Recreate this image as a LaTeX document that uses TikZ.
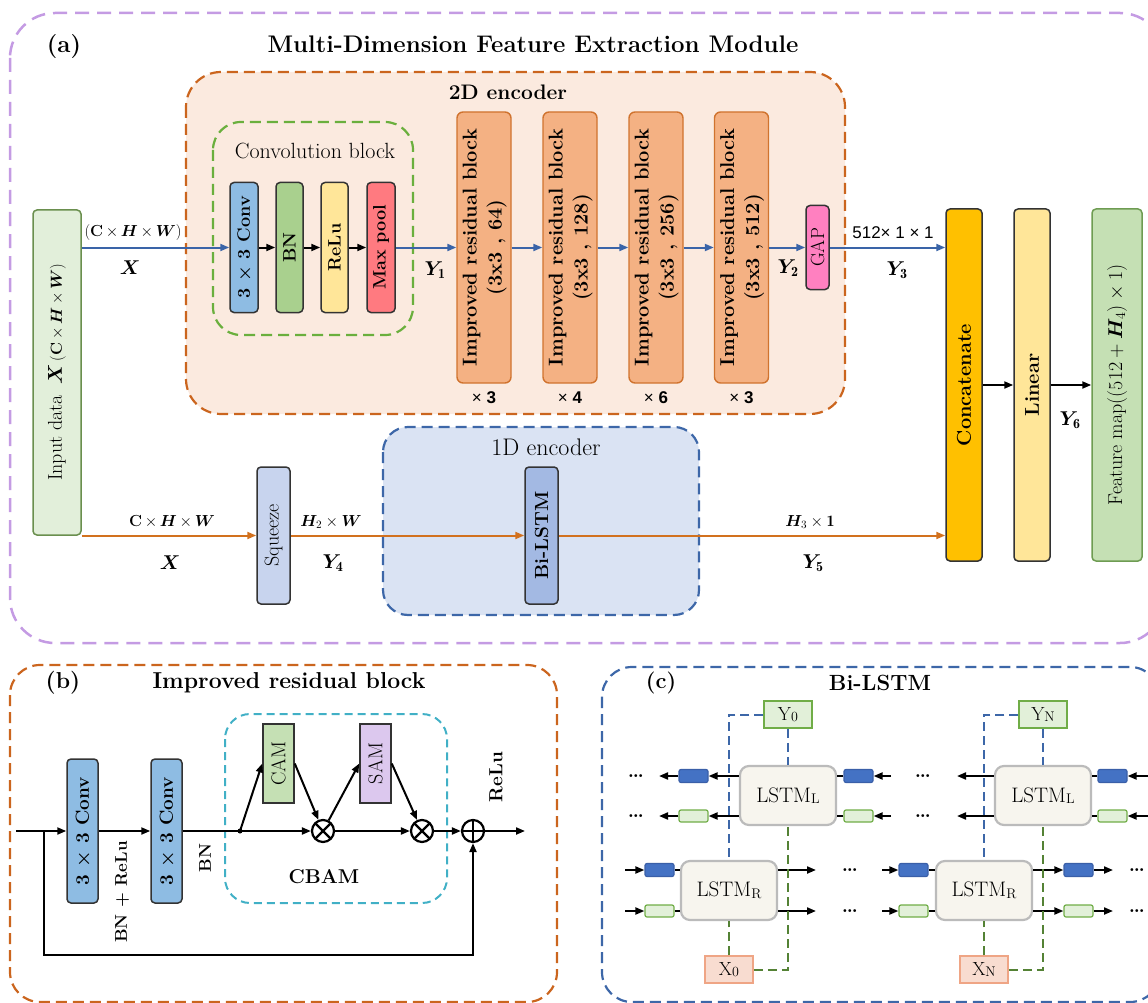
\RequirePackage{fix-cm}
\documentclass[tikz,border=0pt]{standalone}
\usepackage{amsmath}
\usepackage{bm}
\usepackage{graphicx}
\usepackage{fontspec}
\newfontfamily\sansfnt{Liberation Sans}
\usetikzlibrary{arrows.meta,calc}

\definecolor{purp}{HTML}{C49BE3}
\definecolor{orng}{HTML}{CB651E}
\definecolor{peach}{HTML}{FBEADF}
\definecolor{gdash}{HTML}{6AAF3D}
\definecolor{convblue}{HTML}{8EBCE3}
\definecolor{bngreen}{HTML}{A9D08E}
\definecolor{reluyel}{HTML}{FFE699}
\definecolor{maxred}{HTML}{FF7A80}
\definecolor{irbfill}{HTML}{F4B183}
\definecolor{irbdraw}{HTML}{D0732E}
\definecolor{gapfill}{HTML}{FF80C0}
\definecolor{arrblue}{HTML}{3A64A8}
\definecolor{arrorng}{HTML}{D2711E}
\definecolor{inpfill}{HTML}{E2EFDA}
\definecolor{inpdraw}{HTML}{6A8F4E}
\definecolor{catfill}{HTML}{FFC000}
\definecolor{linfill}{HTML}{FFE699}
\definecolor{featfill}{HTML}{C5E0B4}
\definecolor{featdraw}{HTML}{6E9C52}
\definecolor{sqfill}{HTML}{C8D4EE}
\definecolor{encfill}{HTML}{DAE3F3}
\definecolor{encdraw}{HTML}{3D67A8}
\definecolor{bilfill}{HTML}{A3B9E3}
\definecolor{cbamcyan}{HTML}{41B0C6}
\definecolor{camfill}{HTML}{C5E0B4}
\definecolor{samfill}{HTML}{DCC8EE}
\definecolor{lstmfill}{HTML}{F7F5EE}
\definecolor{lstmdraw}{HTML}{BBBBBB}
\definecolor{yfill}{HTML}{E2F0D9}
\definecolor{ydraw}{HTML}{70AD47}
\definecolor{xfill}{HTML}{F8DCD0}
\definecolor{xdraw}{HTML}{EFA585}
\definecolor{brfill}{HTML}{4472C4}
\definecolor{brdraw}{HTML}{3A5FA8}
\definecolor{cgreen}{HTML}{548235}

\newcommand\fsz[2]{\fontsize{#1}{#2}\selectfont}
\newcommand\vtxt[1]{\rotatebox{90}{#1}}
\newcommand\twoline[2]{\begin{tabular}{@{}c@{}}#1\\#2\end{tabular}}
\newcommand\lsub[1]{\raisebox{-1.5pt}{\fsz{14}{14}#1}}

\begin{document}
\begin{tikzpicture}[x=1pt,y=-1pt,
  every node/.style={inner sep=0pt},
  blk/.style={draw=black!80, line width=1.5pt, rounded corners=4pt, font=\bfseries\fsz{18}{22}},
  irb/.style={draw=irbdraw, fill=irbfill, line width=1.4pt, rounded corners=6pt,
    minimum width=54pt, minimum height=271pt, font=\bfseries\fsz{20}{25}},
  frameA/.style={draw=purp, line width=2.5pt, dash pattern=on 14pt off 8pt, rounded corners=45pt},
  frameO/.style={draw=orng, line width=2.2pt, dash pattern=on 11pt off 6pt, rounded corners=35pt},
  frameG/.style={draw=gdash, line width=2.2pt, dash pattern=on 11pt off 6pt, rounded corners=28pt},
  frameB/.style={draw=encdraw, line width=2.2pt, dash pattern=on 11pt off 6pt, rounded corners=25pt},
  frameC/.style={draw=cbamcyan, line width=2pt, dash pattern=on 8pt off 5pt, rounded corners=25pt},
  tip/.style={-{Triangle[length=9pt,width=7pt]}},
  barrow/.style={draw=arrblue, line width=2pt, tip},
  oarrow/.style={draw=arrorng, line width=2pt, tip},
  karrow/.style={draw=black, line width=2pt, tip},
  kline/.style={draw=black, line width=2pt},
  ylab/.style={font=\fsz{20}{24}},
  dimlab/.style={font=\fsz{16}{20}},
  sanslab/.style={font=\sansfnt\fsz{17}{20}},
  opc/.style={circle, draw=black, line width=2.2pt, fill=white, minimum size=22pt},
  brect/.style={draw=brdraw, fill=brfill, line width=1.2pt, rounded corners=2pt, minimum width=29pt, minimum height=13pt},
  grect/.style={draw=ydraw, fill=yfill, line width=1.2pt, rounded corners=2pt, minimum width=29pt, minimum height=12pt},
  lstm/.style={draw=lstmdraw, fill=lstmfill, line width=2.2pt, rounded corners=9pt,
    minimum width=96pt, minimum height=59pt, font=\fsz{21}{24}},
  ybox/.style={draw=ydraw, fill=yfill, line width=1.5pt, minimum width=48pt, minimum height=27pt, font=\fsz{19}{20}},
  xbox/.style={draw=xdraw, fill=xfill, line width=1.5pt, minimum width=48pt, minimum height=27pt, font=\fsz{19}{20}},
  bdash/.style={draw=encdraw, line width=2pt, dash pattern=on 9pt off 5pt},
  gdsh/.style={draw=cgreen, line width=2pt, dash pattern=on 9pt off 5pt},
  dots/.style={font=\bfseries\fsz{20}{20}},
]
\useasboundingbox (0,0) rectangle (1148,1003);

% ---------------- (a) Multi-Dimension Feature Extraction Module ----------------
\draw[frameA] (10,13) rectangle (1165,643);
\draw[frameO, fill=peach] (186,72) rectangle (845,414);
\draw[frameG] (213,122) rectangle (413,335);
\draw[frameB, fill=encfill] (383,427) rectangle (699,615);

\node[font=\bfseries\fsz{24}{28}] (tagA) at (64,47) {(a)};
\node[font=\bfseries\fsz{24}{28}] (titleA) at (533,44) {Multi-Dimension Feature Extraction Module};
\node[font=\bfseries\fsz{21}{24}] (title2d) at (508,92) {2D encoder};
\node[font=\fsz{22}{26}] (titlecb) at (315,151) {Convolution block};
\node[font=\fsz{24}{28}] (title1d) at (546,447) {1D encoder};

% input
\node[blk, draw=inpdraw, fill=inpfill, minimum width=48pt, minimum height=325pt, font=\fsz{20}{24}] (inp) at (57,372.5)
  {\vtxt{Input data\enspace$\bm{X}$\,{\fsz{16}{20}(\textbf{C}\,$\times$\,$\bm{H}$\,$\times$\,$\bm{W}$)}}};

% convolution block
\node[blk, fill=convblue, minimum width=28pt, minimum height=130pt] (cv) at (244,247.5) {\vtxt{3 × 3 Conv}};
\node[blk, fill=bngreen, minimum width=27pt, minimum height=130pt] (bn) at (289.5,247.5) {\vtxt{BN}};
\node[blk, fill=reluyel, minimum width=27pt, minimum height=130pt] (relu) at (334.5,247.5) {\vtxt{ReLu}};
\node[blk, fill=maxred, minimum width=28pt, minimum height=130pt] (mp) at (381,247.5) {\vtxt{Max pool}};

% improved residual blocks
\node[irb] (r1) at (484,247.5) {\vtxt{\twoline{Improved residual block}{(3x3 , 64)}}};
\node[irb] (r2) at (570,247.5) {\vtxt{\twoline{Improved residual block}{(3x3 , 128)}}};
\node[irb] (r3) at (656,247.5) {\vtxt{\twoline{Improved residual block}{(3x3 , 256)}}};
\node[irb] (r4) at (741.5,247.5) {\vtxt{\twoline{Improved residual block}{(3x3 , 512)}}};
\node[sanslab] (n1) at (484,398) {× \textbf{3}};
\node[sanslab] (n2) at (570,398) {× \textbf{4}};
\node[sanslab] (n3) at (656,398) {× \textbf{6}};
\node[sanslab] (n4) at (741.5,398) {× \textbf{3}};

\node[blk, fill=gapfill, minimum width=23pt, minimum height=84pt, font=\fsz{19}{22}] (gap) at (817.5,247.5) {\vtxt{GAP}};

% fusion
\node[blk, fill=catfill, minimum width=36pt, minimum height=352pt, font=\bfseries\fsz{20}{24}] (cat) at (964,385) {\vtxt{Concatenate}};
\node[blk, fill=linfill, minimum width=36pt, minimum height=352pt, font=\bfseries\fsz{20}{24}] (lin) at (1032,385) {\vtxt{Linear}};
\node[blk, draw=featdraw, fill=featfill, minimum width=50pt, minimum height=352pt, font=\fsz{20}{24}] (fm) at (1117,385)
  {\vtxt{Feature map$((512+\bm{H}_4)\times 1)$}};

% 1D branch
\node[blk, fill=sqfill, minimum width=33pt, minimum height=137pt, font=\fsz{20}{24}] (sq) at (273.5,535.5) {\vtxt{Squeeze}};
\node[blk, fill=bilfill, minimum width=33pt, minimum height=137pt, font=\bfseries\fsz{19}{22}] (bil) at (541.5,535.5) {\vtxt{Bi-LSTM}};

% connectors
\draw[barrow] (inp.east |- cv) -- (cv);
\draw[karrow] (cv) -- (bn);
\draw[karrow] (bn) -- (relu);
\draw[karrow] (relu) -- (mp);
\draw[barrow] (mp) -- (r1);
\draw[barrow] (r1) -- (r2);
\draw[barrow] (r2) -- (r3);
\draw[barrow] (r3) -- (r4);
\draw[barrow] (r4) -- (gap);
\draw[barrow] (gap) -- (cat.west |- gap);
\draw[karrow] (cat) -- (lin);
\draw[karrow] (lin) -- (fm);
\draw[oarrow] (inp.east |- sq) -- (sq);
\draw[oarrow] (sq) -- (bil);
\draw[oarrow] (bil) -- (cat.west |- bil);

% tensor labels
\node[dimlab] (dx) at (133,233) {(\textbf{C}\,$\times$\,$\bm{H}$\,$\times$\,$\bm{W}$)};
\node[ylab] (lx) at (130,268) {$\bm{X}$};
\node[ylab] (ly1) at (435,270) {$\bm{Y}_{\mathbf{1}}$};
\node[ylab] (ly2) at (788,268) {$\bm{Y}_{\mathbf{2}}$};
\node[sanslab] (d3) at (893,233) {512× 1 × 1};
\node[ylab] (ly3) at (897,270) {$\bm{Y}_{\mathbf{3}}$};
\node[ylab] (ly6) at (1070,420) {$\bm{Y}_{\mathbf{6}}$};
\node[dimlab] (dx2) at (172,522) {\textbf{C}\,$\times$\,$\bm{H}$\,$\times$\,$\bm{W}$};
\node[ylab] (lx2) at (170,563) {$\bm{X}$};
\node[dimlab] (dh2) at (331,522) {$\bm{H}_2\times\bm{W}$};
\node[ylab] (ly4) at (333,563) {$\bm{Y}_{\mathbf{4}}$};
\node[dimlab] (dh3) at (810,522) {$\bm{H}_3\times\mathbf{1}$};
\node[ylab] (ly5) at (813,563) {$\bm{Y}_{\mathbf{5}}$};

% ---------------- (b) Improved residual block ----------------
\draw[frameO, rounded corners=30pt] (10,665) rectangle (557,1002);
\draw[frameC] (225,714) rectangle (447,903);
\node[font=\bfseries\fsz{23}{26}] (tagB) at (63,683) {(b)};
\node[font=\bfseries\fsz{23}{26}] (titleB) at (289,683) {Improved residual block};

\node[blk, fill=convblue, minimum width=31pt, minimum height=144pt, font=\bfseries\fsz{19}{22}] (bc1) at (82.5,831) {\vtxt{3 × 3 Conv}};
\node[blk, fill=convblue, minimum width=31pt, minimum height=144pt, font=\bfseries\fsz{19}{22}] (bc2) at (166.5,831) {\vtxt{3 × 3 Conv}};
\node[blk, rounded corners=0pt, fill=camfill, minimum width=31pt, minimum height=79pt, font=\fsz{20}{24}] (cam) at (278.5,763.5) {\vtxt{CAM}};
\node[blk, rounded corners=0pt, fill=samfill, minimum width=31pt, minimum height=79pt, font=\fsz{20}{24}] (sam) at (375.5,763.5) {\vtxt{SAM}};
\node[opc, path picture={\draw[line width=2.2pt] (path picture bounding box.north west) -- (path picture bounding box.south east)
  (path picture bounding box.north east) -- (path picture bounding box.south west);}] (ot1) at (323,831) {};
\node[opc, path picture={\draw[line width=2.2pt] (path picture bounding box.north west) -- (path picture bounding box.south east)
  (path picture bounding box.north east) -- (path picture bounding box.south west);}] (ot2) at (422,831) {};
\node[opc, path picture={\draw[line width=2.2pt] (path picture bounding box.north) -- (path picture bounding box.south)
  (path picture bounding box.east) -- (path picture bounding box.west);}] (op) at (473,831) {};

\coordinate (bin) at (16,831);
\coordinate (bsplit) at (44,831);
\coordinate (bskip) at (44,955);
\coordinate (bout) at (525,831);
\node[circle, fill=black, minimum size=5pt] (cbr) at (240,831) {};

\draw[karrow] (bin) -- (bc1);
\draw[karrow] (bc1) -- (bc2);
\draw[karrow] (bc2) -- (ot1);
\draw[karrow] (cbr.center) -- (cam.west);
\draw[karrow] (cam.east) -- (ot1);
\draw[karrow] (ot1) -- (sam.west);
\draw[karrow] (sam.east) -- (ot2);
\draw[karrow] (ot1) -- (ot2);
\draw[karrow] (ot2) -- (op);
\draw[karrow] (op) -- (bout);
\draw[karrow] (bsplit) -- (bskip) -| (op);

\node[font=\bfseries\fsz{17}{20}] (lbr) at (122,892) {\vtxt{BN + ReLu}};
\node[font=\bfseries\fsz{17}{20}] (lbn) at (205,858) {\vtxt{BN}};
\node[font=\bfseries\fsz{19}{22}] (lrelu) at (496,777) {\vtxt{ReLu}};
\node[font=\bfseries\fsz{20}{24}] (lcbam) at (324,877) {CBAM};

% ---------------- (c) Bi-LSTM ----------------
\draw[frameB, rounded corners=30pt] (602,667) rectangle (1160,1002);
\node[font=\bfseries\fsz{22}{26}] (tagC) at (661,683) {(c)};
\node[font=\bfseries\fsz{22}{26}] (titleC) at (880,683) {Bi-LSTM};

\node[lstm] (l1) at (788,795.5) {LSTM\lsub{L}};
\node[lstm] (l2) at (1043,795.5) {LSTM\lsub{L}};
\node[lstm] (q1) at (729,890.5) {LSTM\lsub{R}};
\node[lstm] (q2) at (984,890.5) {LSTM\lsub{R}};
\node[ybox] (y0) at (788,714.5) {Y\lsub{0}};
\node[ybox] (yn) at (1043,714.5) {Y\lsub{N}};
\node[xbox] (x0) at (729,969.5) {X\lsub{0}};
\node[xbox] (xn) at (984,969.5) {X\lsub{N}};

% backward (L) rows
\node[brect] (a1) at (693.5,776) {};
\node[grect] (a2) at (693.5,816) {};
\node[brect] (a3) at (858.5,776) {};
\node[grect] (a4) at (858.5,816) {};
\node[brect] (a5) at (1112.5,776) {};
\node[grect] (a6) at (1112.5,816) {};
\coordinate (e1) at (659,776);
\coordinate (e2) at (659,816);
\coordinate (e3) at (891,776);
\coordinate (e4) at (891,816);
\coordinate (e5) at (957,776);
\coordinate (e6) at (957,816);
\coordinate (e7) at (1150,776);
\coordinate (e8) at (1150,816);
\draw[karrow] (l1.west |- a1) -- (a1);
\draw[karrow] (a1) -- (e1);
\draw[karrow] (l1.west |- a2) -- (a2);
\draw[karrow] (a2) -- (e2);
\draw[karrow] (e3) -- (a3);
\draw[kline] (a3) -- (l1.east |- a3);
\draw[karrow] (e4) -- (a4);
\draw[kline] (a4) -- (l1.east |- a4);
\draw[karrow] (l2.west |- e5) -- (e5);
\draw[karrow] (l2.west |- e6) -- (e6);
\draw[karrow] (e7) -- (a5);
\draw[kline] (a5) -- (l2.east |- a5);
\draw[karrow] (e8) -- (a6);
\draw[kline] (a6) -- (l2.east |- a6);
\node[dots] (dt1) at (636,776) {\ldots};
\node[dots] (dt2) at (636,816) {\ldots};
\node[dots] (dt3) at (923,776) {\ldots};
\node[dots] (dt4) at (923,816) {\ldots};

% forward (R) rows
\node[brect] (b1) at (659.5,870) {};
\node[grect] (b2) at (659.5,911) {};
\node[brect] (b3) at (913.5,870) {};
\node[grect] (b4) at (913.5,911) {};
\node[brect] (b5) at (1078.5,870) {};
\node[grect] (b6) at (1078.5,911) {};
\coordinate (f1) at (625,870);
\coordinate (f2) at (625,911);
\coordinate (f3) at (816,870);
\coordinate (f4) at (816,911);
\coordinate (f5) at (882,870);
\coordinate (f6) at (882,911);
\coordinate (f7) at (1113,870);
\coordinate (f8) at (1113,911);
\draw[karrow] (f1) -- (b1);
\draw[kline] (b1) -- (q1.west |- b1);
\draw[karrow] (f2) -- (b2);
\draw[kline] (b2) -- (q1.west |- b2);
\draw[karrow] (q1.east |- f3) -- (f3);
\draw[karrow] (q1.east |- f4) -- (f4);
\draw[karrow] (f5) -- (b3);
\draw[kline] (b3) -- (q2.west |- b3);
\draw[karrow] (f6) -- (b4);
\draw[kline] (b4) -- (q2.west |- b4);
\draw[karrow] (q2.east |- b5) -- (b5);
\draw[karrow] (b5) -- (f7);
\draw[karrow] (q2.east |- b6) -- (b6);
\draw[karrow] (b6) -- (f8);
\node[dots] (dt5) at (850,870) {\ldots};
\node[dots] (dt6) at (850,911) {\ldots};
\node[dots] (dt7) at (1137,870) {\ldots};
\node[dots] (dt8) at (1137,911) {\ldots};

% dashed data paths (drawn over the state arrows)
\draw[bdash] (y0.west) -| (q1.north);
\draw[bdash] (y0) -- (l1);
\draw[gdsh] (x0) -- (q1);
\draw[gdsh] (x0.east) -| (l1.south);
\draw[bdash] (yn.west) -| (q2.north);
\draw[bdash] (yn) -- (l2);
\draw[gdsh] (xn) -- (q2);
\draw[gdsh] (xn.east) -| (l2.south);
\end{tikzpicture}
\end{document}
